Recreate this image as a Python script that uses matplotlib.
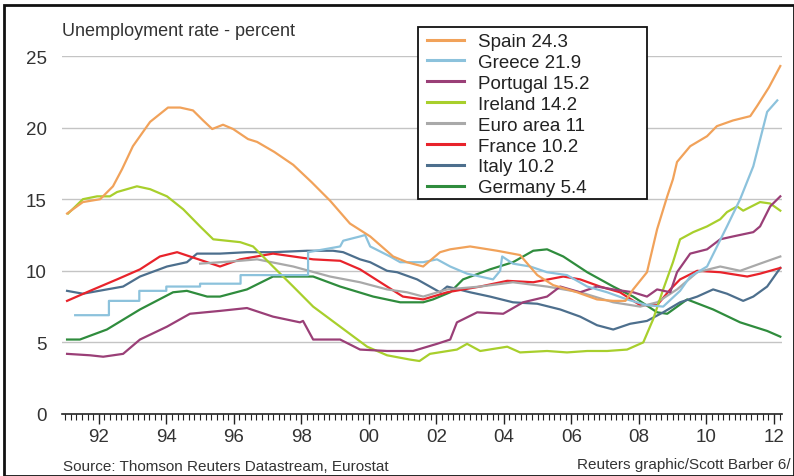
import numpy as np
import matplotlib
matplotlib.use("Agg")
import matplotlib.pyplot as plt
from matplotlib.patches import Rectangle
from matplotlib.lines import Line2D

# readings in decimal years
spain_x = [1991.06, 1991.53, 1992.04, 1992.42, 1992.69, 1993.01, 1993.52, 1994.05, 1994.41, 1994.79,
           1995.09, 1995.36, 1995.68, 1995.98, 1996.42, 1996.69, 1997.2, 1997.76, 1998.3, 1998.85,
           1999.44, 2000.04, 2000.72, 2001.13, 2001.61, 2002.11, 2002.41, 2003.0, 2003.8, 2004.48,
           2004.99, 2005.46, 2006.17, 2006.76, 2007.24, 2007.6, 2007.83, 2008.24, 2008.54, 2008.84,
           2009.01, 2009.13, 2009.52, 2010.02, 2010.31, 2010.79, 2011.3, 2011.5, 2011.85, 2012.19]
spain_y = [14.0, 14.8, 15.0, 15.9, 17.1, 18.7, 20.4, 21.4, 21.4, 21.2,
           20.5, 19.9, 20.2, 19.9, 19.2, 19.0, 18.3, 17.4, 16.2, 14.9,
           13.3, 12.4, 11.0, 10.6, 10.3, 11.3, 11.5, 11.7, 11.4, 11.1,
           9.7, 9.0, 8.5, 8.0, 7.9, 7.9, 8.7, 9.9, 12.9, 15.2,
           16.4, 17.6, 18.7, 19.4, 20.1, 20.5, 20.8, 21.5, 22.8, 24.3]

greece_x = [1991.3, 1992.3, 1992.3, 1993.2, 1993.2, 1994.0, 1994.0, 1995.0, 1995.0, 1996.2,
            1996.2, 1998.2, 1998.2, 1999.15, 1999.24, 1999.74, 1999.89, 2000.04, 2000.63, 2000.93,
            2001.61, 2002.02, 2002.41, 2002.91, 2003.68, 2003.89, 2003.95, 2004.27, 2004.78, 2005.28,
            2005.87, 2006.47, 2007.06, 2007.65, 2008.24, 2008.72, 2009.22, 2009.52, 2010.02, 2010.61,
            2011.0, 2011.39, 2011.8, 2012.1]
greece_y = [6.9, 6.9, 7.9, 7.9, 8.6, 8.6, 8.9, 8.9, 9.1, 9.1,
            9.7, 9.7, 11.3, 11.7, 12.1, 12.4, 12.5, 11.7, 11.0, 10.6,
            10.6, 10.8, 10.3, 9.8, 9.4, 10.0, 11.0, 10.5, 10.3, 9.9,
            9.7, 8.9, 8.5, 8.0, 7.6, 7.5, 8.6, 9.6, 10.3, 13.1,
            15.0, 17.3, 21.1, 21.9]

portugal_x = [1991.06, 1991.74, 1992.13, 1992.72, 1993.22, 1994.02, 1994.7, 1995.59, 1996.39, 1997.16,
              1997.96, 1998.05, 1998.35, 1999.15, 1999.74, 2000.54, 2001.31, 2002.02, 2002.41, 2002.61,
              2003.21, 2003.98, 2004.57, 2005.28, 2005.67, 2006.26, 2006.76, 2007.24, 2007.83, 2008.24,
              2008.54, 2008.93, 2009.13, 2009.52, 2010.02, 2010.41, 2010.79, 2011.39, 2011.59, 2011.89,
              2012.19]
portugal_y = [4.2, 4.1, 4.0, 4.2, 5.2, 6.1, 7.0, 7.2, 7.4, 6.8,
              6.4, 6.5, 5.2, 5.2, 4.5, 4.4, 4.4, 4.9, 5.2, 6.4,
              7.1, 7.0, 7.8, 8.2, 8.9, 8.5, 8.9, 8.7, 8.5, 8.2,
              8.7, 8.5, 9.9, 11.2, 11.5, 12.2, 12.4, 12.7, 13.1, 14.5,
              15.2]

ireland_x = [1991.09, 1991.53, 1991.95, 1992.33, 1992.54, 1993.13, 1993.52, 1994.02, 1994.5, 1995.0,
             1995.39, 1996.19, 1996.57, 1997.16, 1997.76, 1998.35, 1999.15, 1999.95, 2000.54, 2001.22,
             2001.5, 2001.81, 2002.61, 2002.91, 2003.3, 2004.1, 2004.48, 2005.28, 2005.87, 2006.47,
             2007.06, 2007.65, 2008.13, 2008.42, 2008.72, 2009.01, 2009.22, 2009.61, 2010.02, 2010.41,
             2010.61, 2010.91, 2011.09, 2011.59, 2011.89, 2012.19]
ireland_y = [14.0, 15.0, 15.2, 15.2, 15.5, 15.9, 15.7, 15.2, 14.3, 13.1,
             12.2, 12.0, 11.7, 10.3, 8.9, 7.5, 6.1, 4.7, 4.1, 3.8,
             3.7, 4.2, 4.5, 4.9, 4.4, 4.7, 4.3, 4.4, 4.3, 4.4,
             4.4, 4.5, 5.0, 6.6, 8.7, 10.6, 12.2, 12.7, 13.1, 13.6,
             14.1, 14.5, 14.2, 14.8, 14.7, 14.2]

euro_x = [1995.0, 1996.19, 1996.69, 1997.76, 1998.85, 1999.74, 2000.54, 2001.13, 2001.61, 2002.32,
          2003.3, 2004.27, 2005.28, 2006.26, 2007.24, 2008.04, 2008.54, 2009.13, 2009.73, 2010.41,
          2011.0, 2011.59, 2012.19]
euro_y = [10.5, 10.7, 10.8, 10.3, 9.6, 9.2, 8.7, 8.5, 8.2, 8.7,
          8.9, 9.2, 8.9, 8.5, 7.8, 7.5, 7.8, 8.7, 9.9, 10.3,
          10.0, 10.5, 11.0]

france_x = [1991.06, 1991.74, 1992.54, 1993.22, 1993.81, 1994.32, 1994.7, 1995.21, 1995.59, 1996.19,
            1997.16, 1997.76, 1998.35, 1999.15, 1999.74, 2000.54, 2001.01, 2001.61, 2002.32, 2003.3,
            2004.1, 2004.87, 2005.76, 2006.26, 2006.85, 2007.44, 2008.04, 2008.54, 2008.93, 2009.22,
            2009.73, 2010.41, 2011.21, 2011.59, 2012.19]
france_y = [7.9, 8.6, 9.4, 10.1, 11.0, 11.3, 11.0, 10.6, 10.3, 10.8,
            11.2, 11.0, 10.8, 10.7, 10.1, 8.9, 8.2, 8.0, 8.5, 8.9,
            9.3, 9.2, 9.6, 9.4, 8.9, 8.5, 7.6, 7.6, 8.7, 9.4,
            10.0, 9.9, 9.6, 9.8, 10.2]

italy_x = [1991.06, 1991.53, 1992.24, 1992.72, 1993.22, 1994.02, 1994.61, 1994.91, 1995.59, 1996.39,
           1997.16, 1998.17, 1998.94, 1999.24, 1999.74, 2000.04, 2000.54, 2000.84, 2001.43, 2002.11,
           2002.32, 2003.0, 2003.59, 2004.27, 2004.99, 2005.67, 2006.26, 2006.76, 2007.24, 2007.74,
           2008.24, 2008.72, 2009.22, 2009.73, 2010.2, 2010.61, 2011.09, 2011.39, 2011.8, 2012.19]
italy_y = [8.6, 8.4, 8.7, 8.9, 9.6, 10.3, 10.6, 11.2, 11.2, 11.3,
           11.3, 11.4, 11.4, 11.3, 10.8, 10.6, 10.0, 9.9, 9.4, 8.5,
           8.9, 8.5, 8.2, 7.8, 7.7, 7.3, 6.8, 6.2, 5.9, 6.3,
           6.5, 7.1, 7.8, 8.2, 8.7, 8.4, 7.9, 8.2, 8.9, 10.2]

germany_x = [1991.06, 1991.44, 1992.24, 1993.22, 1994.2, 1994.61, 1995.21, 1995.59, 1996.39, 1997.16,
             1997.76, 1998.35, 1999.15, 2000.13, 2000.93, 2001.61, 2001.9, 2002.41, 2002.79, 2003.59,
             2004.27, 2004.87, 2005.28, 2005.76, 2006.47, 2007.24, 2007.83, 2008.54, 2008.84, 2009.43,
             2010.2, 2011.0, 2011.8, 2012.19]
germany_y = [5.2, 5.2, 5.9, 7.3, 8.5, 8.6, 8.2, 8.2, 8.7, 9.6,
             9.6, 9.6, 8.9, 8.2, 7.8, 7.8, 8.0, 8.5, 9.4, 10.1,
             10.6, 11.4, 11.5, 11.0, 9.9, 8.9, 8.2, 7.1, 7.0, 8.0,
             7.3, 6.4, 5.8, 5.4]

legend_labels = ["Spain 24.3", "Greece 21.9", "Portugal 15.2", "Ireland 14.2",
                 "Euro area 11", "France 10.2", "Italy 10.2", "Germany 5.4"]
colors = ["#f1a25a", "#8cc2dc", "#9a3f77", "#a8cf2c", "#a9a9a9", "#e8232b", "#4d6f8d", "#2f8c3d"]
year_labels = ["92", "94", "96", "98", "00", "02", "04", "06", "08", "10", "12"]

series = [(spain_x, spain_y), (greece_x, greece_y), (portugal_x, portugal_y), (ireland_x, ireland_y),
          (euro_x, euro_y), (france_x, france_y), (italy_x, italy_y), (germany_x, germany_y)]

plt.rcParams['font.family'] = ['Liberation Sans', 'DejaVu Sans']

W, H = 794, 477
fig = plt.figure(figsize=(W / 100, H / 100), dpi=100)
ax = fig.add_axes([62 / W, 1 - 415 / H, (782 - 62) / W, (415 - 57) / H])

# draw back to front so Spain ends up on top, like the legend order
for (xs, ys), c in reversed(list(zip(series, colors))):
    ax.plot(xs, ys, color=c, lw=1.6, solid_joinstyle='round')

ax.set_xlim(1990.91, 2012.24)
ax.set_ylim(0, 25)

for v in [5, 10, 15, 20, 25]:
    ax.axhline(v, color="#c4c4c4", lw=1.0, zorder=0)

for s in ["top", "right", "left"]:
    ax.spines[s].set_visible(False)
ax.spines["bottom"].set_color("#222222")
ax.spines["bottom"].set_linewidth(1.2)

ax.set_xticks(np.arange(1992, 2013, 2))
ax.set_xticklabels(year_labels)
ax.set_xticks(np.arange(1991, 2012.3, 1 / 6), minor=True)
ax.tick_params(axis="x", which="major", length=7, width=1, color="#222222",
               labelsize=13.5, pad=3, labelcolor="#333333")
ax.tick_params(axis="x", which="minor", length=4, width=0.8, color="#222222")

ax.set_yticks([0, 5, 10, 15, 20, 25])
ax.tick_params(axis="y", length=0, labelsize=13.5, pad=11, labelcolor="#333333")

fig.text(62 / W, 1 - 31 / H, "Unemployment rate - percent", fontsize=13,
         color="#333333", va="center", ha="left")
fig.text(63 / W, 1 - 467 / H, "Source: Thomson Reuters Datastream, Eurostat", fontsize=11,
         color="#333333", va="center", ha="left")
fig.text(791 / W, 1 - 465 / H, "Reuters graphic/Scott Barber 6/", fontsize=11,
         color="#333333", va="center", ha="right")

# legend box drawn by hand, entries placed inside
fig.patches.append(Rectangle((418 / W, 1 - 200 / H), (647 - 418) / W, (200 - 28) / H,
                             transform=fig.transFigure, fill=True, facecolor="white",
                             edgecolor="#111111", lw=1.3, zorder=5))
handles = [Line2D([], [], color=c, lw=2.2) for c in colors]
leg = fig.legend(handles, legend_labels, loc="upper left",
                 bbox_to_anchor=(427 / W, 1 - 34 / H), bbox_transform=fig.transFigure,
                 frameon=False, borderpad=0, borderaxespad=0, fontsize=13.5,
                 handlelength=2.0, handletextpad=0.7, labelspacing=0.2)
leg.set_zorder(6)
for t in leg.get_texts():
    t.set_color("#222222")

# outer frame of the graphic
fig.patches.append(Rectangle((4 / W, 0), (W - 4) / W, 1 - 6 / H, transform=fig.transFigure,
                             fill=False, edgecolor="#111111", lw=2.0))

fig.savefig("out.png", dpi=100)
